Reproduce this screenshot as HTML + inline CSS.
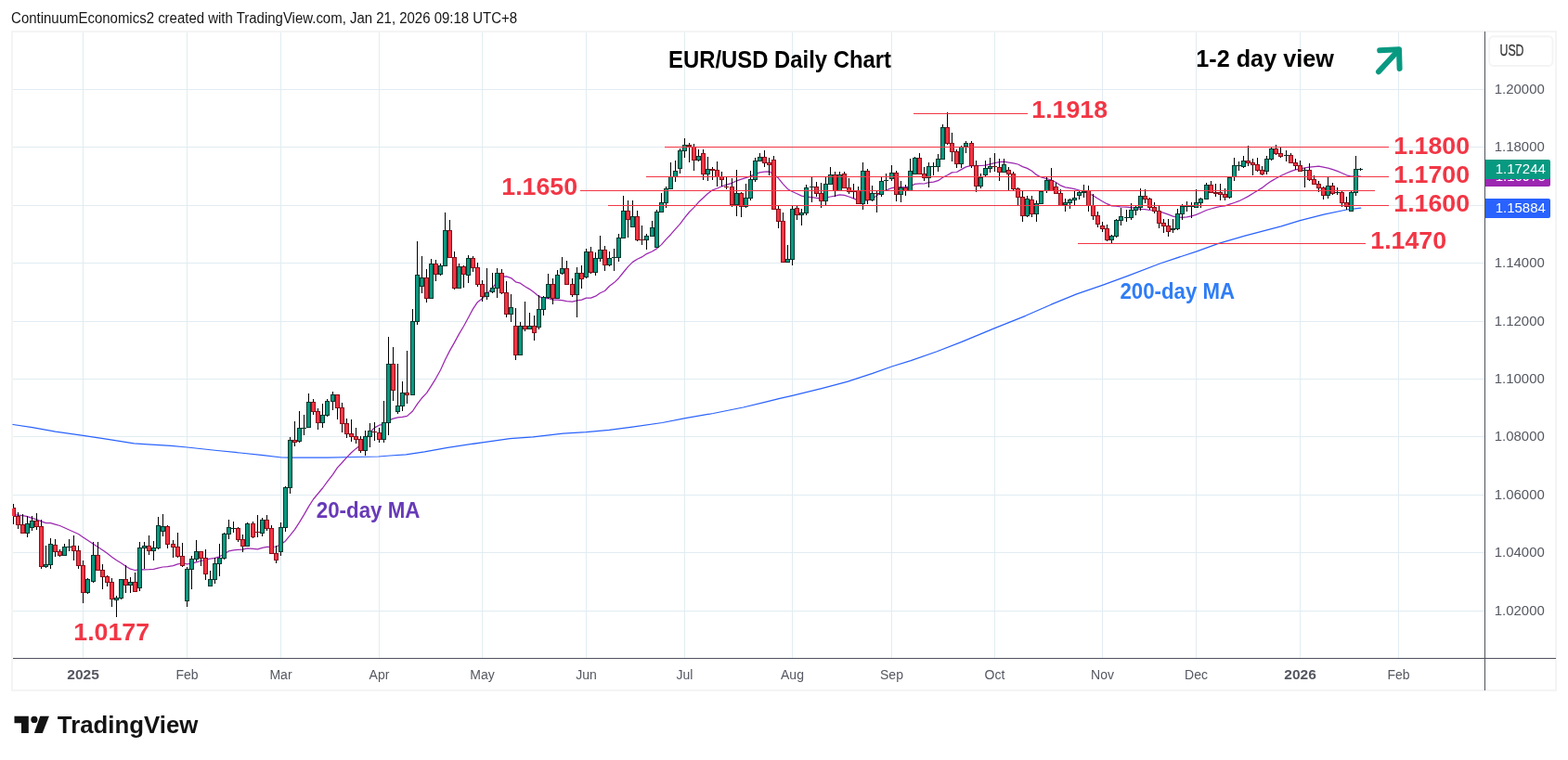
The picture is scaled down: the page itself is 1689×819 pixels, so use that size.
<!DOCTYPE html>
<html lang="en"><head><meta charset="utf-8"><title>EUR/USD Daily Chart</title>
<style>html,body{margin:0;padding:0;background:#fff;overflow:hidden}svg{display:block}text{font-family:'Liberation Sans', sans-serif}.ax{font-size:14px;fill:#555861}.b{font-weight:700}</style></head><body>
<svg width="1689" height="819" viewBox="0 0 1689 819">
<rect width="1689" height="819" fill="#fff"/>
<g shape-rendering="crispEdges">
<rect x="12" y="33" width="1665" height="712" fill="#f4f4f4"/>
<rect x="14" y="35" width="1661" height="708" fill="#fff"/>
<path d="M89.5 35V709M201.5 35V709M302.5 35V709M408.5 35V709M519.5 35V709M631.5 35V709M737.5 35V709M853.5 35V709M960.5 35V709M1071.5 35V709M1187.5 35V709M1288.5 35V709M1400.5 35V709M1506.5 35V709M14 96.5H1599M14 158.5H1599M14 221.5H1599M14 283.5H1599M14 346.5H1599M14 408.5H1599M14 470.5H1599M14 533.5H1599M14 595.5H1599M14 658.5H1599" stroke="#e1ecf2" stroke-width="1" fill="none"/>
</g>
<path d="M14 457.5L34.9 460.6L59.7 465.1L89.6 469.3L114.5 473.1L144.3 477.8L159.2 478.8L184.1 480.3L201.5 482L233.8 485.5L258.7 488L283.6 490.7L303.5 493L315.9 493.2L353.2 493L383 492.5L407.9 492L420 491L437.4 489.8L457.3 486.8L482.2 482.3L519.5 476.8L549.3 472.6L574.2 470.9L606.5 467.1L631.4 465.7L656.3 463.4L681.1 460.2L713.5 455.5L738.3 450.7L768.2 445.5L800.5 439L822.9 433.6L840 429.3L853.4 426.3L885 418.6L912.4 411.4L939.9 402.4L960.5 395L981.1 388.6L1008.6 379L1036 368.3L1071.5 353.7L1104.7 340.3L1132.2 328.2L1159.7 316.9L1187.4 307.3L1216 296.8L1249.5 284L1273.6 276L1288.5 271.1L1312.6 262.4L1340.9 254.1L1380 243.8L1400.4 237.6L1425.9 231.2L1450.4 226L1465.7 224.2" stroke="#2962ff" stroke-width="1.25" fill="none" stroke-linejoin="round" stroke-linecap="round"/>
<path d="M14 554.7L19.5 555.2L24.5 555.6L29.5 556.7L34.5 558.3L39.5 559.9L44.5 561.8L49.5 563.6L54.5 563.6L59.5 565.1L64.5 566.5L69.5 568.7L74.5 571L79.5 573.3L84.5 575.5L89.5 578.9L94.5 582.3L100.5 586.2L105.5 589.5L110.5 592.7L115.5 596.2L120.5 600.2L125.5 603.8L130.5 606.8L135.5 610.2L140.5 613.2L145.5 614.5L150.5 613.6L155.5 613.8L160.5 613.7L165.5 613.3L170.5 612.1L175.5 611L180.5 610.7L186.5 609.7L191.5 607.8L196.5 607L201.5 607.8L206.5 607.1L211.5 605.8L216.5 604.5L221.5 603.1L226.5 602.1L231.5 601.3L236.5 599.8L241.5 597.2L246.5 593.8L251.5 592.8L256.5 592.4L261.5 592.1L266.5 590.8L272.5 591.4L277.5 591.8L282.5 590.4L287.5 589.4L292.5 589.3L297.5 589L302.5 586.8L307.5 582.9L312.5 576.9L317.5 570.6L322.5 562.8L327.5 554.6L332.5 545.9L337.5 538L342.5 532L347.5 526L352.5 519.1L358.5 511.3L363.5 503.9L368.5 498.5L373.5 492.9L378.5 487.8L383.5 483.4L388.5 479.2L393.5 472.9L398.5 466L403.5 460.9L408.5 458.2L413.5 457.3L418.5 453.1L423.5 451.1L428.5 449.9L433.5 449.4L438.5 448.4L444.5 443L449.5 435.4L454.5 428.8L459.5 423.6L464.5 415.9L469.5 407.8L474.5 398.8L479.5 387.7L484.5 377.9L489.5 369.1L494.5 359.9L499.5 351.5L504.5 342.2L509.5 332.9L514.5 325.4L519.5 321.8L524.5 316.6L530.5 310.2L535.5 303.8L540.5 298.2L545.5 297.9L550.5 299.6L555.5 303.8L560.5 305.2L565.5 308.8L570.5 311.6L575.5 315.2L580.5 319.4L585.5 321.6L590.5 321.4L595.5 323.1L600.5 323.1L605.5 323.7L610.5 324.6L616.5 325.1L621.5 323.9L626.5 323.1L631.5 321.2L636.5 321.1L641.5 319.2L646.5 315.8L651.5 313.5L656.5 308.3L661.5 304.6L666.5 299.7L671.5 293.5L676.5 287.4L681.5 282.4L686.5 279.3L691.5 276.9L696.5 273.6L702.5 271L707.5 267.9L712.5 263.6L717.5 257.9L722.5 252.7L727.5 246.9L732.5 241.4L737.5 234.6L742.5 228.5L747.5 223.6L752.5 217.8L757.5 213.2L762.5 208.5L767.5 204.8L772.5 203L777.5 200.8L782.5 199.2L788.5 197.3L793.5 194.8L798.5 193.2L803.5 191.6L808.5 189.9L813.5 187.6L818.5 185.9L823.5 185.2L828.5 184.8L833.5 188L838.5 192.1L843.5 198.3L848.5 203.7L853.5 206.5L858.5 208.7L863.5 211.1L868.5 212.1L874.5 212.6L879.5 213.4L884.5 214.1L889.5 213L894.5 212L899.5 211.2L904.5 209.9L909.5 210.4L914.5 212L919.5 213.9L924.5 216.1L929.5 216.4L934.5 215.9L939.5 214.4L944.5 210.7L949.5 206.5L954.5 205L960.5 202.7L965.5 201.7L970.5 201.7L975.5 201.9L980.5 200.7L985.5 198.4L990.5 197.9L995.5 198L1000.5 196.7L1005.5 196.2L1010.5 194.7L1015.5 191.2L1020.5 188.7L1025.5 185.9L1030.5 185.5L1035.5 182.6L1040.5 179.9L1046.5 178.4L1051.5 178.7L1056.5 178.5L1061.5 178.2L1066.5 176.8L1071.5 175.6L1076.5 174.6L1081.5 174.2L1086.5 175.1L1091.5 175.9L1096.5 177L1101.5 179.6L1106.5 181.4L1111.5 184.3L1116.5 188.4L1121.5 191L1127.5 192.6L1132.5 194L1137.5 196.5L1142.5 199.9L1147.5 201.9L1152.5 202.6L1157.5 203.7L1162.5 205L1167.5 206.4L1172.5 208.5L1177.5 210.8L1182.5 214L1187.5 217L1192.5 219.7L1197.5 221.8L1202.5 222.1L1207.5 223L1213.5 223.2L1218.5 223.6L1223.5 224.4L1228.5 225.3L1233.5 225.7L1238.5 226.5L1243.5 226.8L1248.5 227.9L1253.5 229.3L1258.5 231.1L1263.5 233.1L1268.5 234.2L1273.5 234.3L1278.5 233.8L1283.5 232.8L1288.5 231.4L1293.5 229.2L1299.5 226.5L1304.5 225L1309.5 223.7L1314.5 222.5L1319.5 221.8L1324.5 220.2L1329.5 218.5L1334.5 216.7L1339.5 214.2L1344.5 211.6L1349.5 208.5L1354.5 205.5L1359.5 202.4L1364.5 198.6L1369.5 195.1L1374.5 192.2L1379.5 189.5L1385.5 186.8L1390.5 184.6L1395.5 182.8L1400.5 182.1L1405.5 180.9L1410.5 180.2L1415.5 179.6L1420.5 179.1L1425.5 180.1L1430.5 181.2L1435.5 182.7L1440.5 184.4L1445.5 186.5L1450.5 188.8L1455.5 190L1460.5 189.7L1465.5 190.2" stroke="#9c27b0" stroke-width="1.25" fill="none" stroke-linejoin="round" stroke-linecap="round"/>
<g shape-rendering="crispEdges">
<path d="M14 543h1V565h-1zM19 552h1V570h-1zM24 554h1V575h-1zM29 556h1V579h-1zM34 556h1V572h-1zM39 553h1V571h-1zM44 560h1V613h-1zM49 588h1V612h-1zM54 580h1V613h-1zM59 581h1V600h-1zM64 592h1V600h-1zM69 586h1V599h-1zM74 581h1V594h-1zM79 577h1V604h-1zM84 588h1V613h-1zM89 604h1V650h-1zM94 623h1V640h-1zM100 584h1V628h-1zM105 584h1V615h-1zM110 608h1V635h-1zM115 620h1V632h-1zM120 623h1V654h-1zM125 642h1V665h-1zM130 624h1V646h-1zM135 609h1V639h-1zM140 622h1V639h-1zM145 617h1V638h-1zM150 584h1V637h-1zM155 584h1V613h-1zM160 577h1V598h-1zM165 583h1V604h-1zM170 557h1V592h-1zM175 554h1V578h-1zM180 566h1V591h-1zM186 582h1V601h-1zM191 574h1V601h-1zM196 585h1V611h-1zM201 611h1V654h-1zM206 599h1V635h-1zM211 582h1V605h-1zM216 594h1V610h-1zM221 592h1V625h-1zM226 615h1V632h-1zM231 601h1V629h-1zM236 586h1V621h-1zM241 574h1V603h-1zM246 560h1V581h-1zM251 562h1V574h-1zM256 568h1V584h-1zM261 576h1V595h-1zM266 563h1V589h-1zM272 562h1V580h-1zM277 555h1V579h-1zM282 558h1V578h-1zM287 555h1V572h-1zM292 566h1V597h-1zM297 588h1V607h-1zM302 563h1V599h-1zM307 524h1V573h-1zM312 471h1V532h-1zM317 454h1V481h-1zM322 443h1V477h-1zM327 447h1V469h-1zM332 424h1V461h-1zM337 430h1V447h-1zM342 440h1V463h-1zM347 435h1V461h-1zM352 430h1V449h-1zM358 422h1V442h-1zM363 425h1V452h-1zM368 434h1V466h-1zM373 451h1V472h-1zM378 452h1V476h-1zM383 461h1V478h-1zM388 470h1V488h-1zM393 464h1V491h-1zM398 456h1V482h-1zM403 455h1V475h-1zM408 461h1V477h-1zM413 432h1V477h-1zM418 363h1V469h-1zM423 374h1V432h-1zM428 392h1V446h-1zM433 411h1V443h-1zM438 378h1V435h-1zM444 333h1V426h-1zM449 260h1V350h-1zM454 276h1V316h-1zM459 290h1V326h-1zM464 279h1V322h-1zM469 280h1V303h-1zM474 284h1V297h-1zM479 229h1V287h-1zM484 237h1V278h-1zM489 271h1V312h-1zM494 284h1V311h-1zM499 286h1V310h-1zM504 275h1V305h-1zM509 276h1V293h-1zM514 283h1V309h-1zM519 302h1V325h-1zM524 289h1V323h-1zM530 294h1V316h-1zM535 289h1V321h-1zM540 290h1V317h-1zM545 303h1V342h-1zM550 317h1V347h-1zM555 332h1V388h-1zM560 347h1V383h-1zM565 325h1V357h-1zM570 337h1V355h-1zM575 340h1V367h-1zM580 318h1V355h-1zM585 319h1V340h-1zM590 295h1V322h-1zM595 300h1V328h-1zM600 291h1V322h-1zM605 277h1V296h-1zM610 281h1V307h-1zM616 300h1V320h-1zM621 288h1V342h-1zM626 286h1V311h-1zM631 268h1V300h-1zM636 266h1V295h-1zM641 272h1V297h-1zM646 254h1V282h-1zM651 265h1V292h-1zM656 271h1V287h-1zM661 268h1V292h-1zM666 252h1V282h-1zM671 211h1V257h-1zM676 216h1V256h-1zM681 216h1V245h-1zM686 227h1V260h-1zM691 243h1V264h-1zM696 252h1V269h-1zM702 238h1V255h-1zM707 226h1V267h-1zM712 208h1V229h-1zM717 201h1V224h-1zM722 175h1V204h-1zM727 173h1V196h-1zM732 160h1V187h-1zM737 149h1V170h-1zM742 154h1V175h-1zM747 155h1V184h-1zM752 161h1V174h-1zM757 161h1V194h-1zM762 169h1V195h-1zM767 180h1V194h-1zM772 174h1V201h-1zM777 185h1V201h-1zM782 190h1V204h-1zM788 192h1V223h-1zM793 183h1V233h-1zM798 207h1V234h-1zM803 198h1V224h-1zM808 184h1V216h-1zM813 170h1V196h-1zM818 165h1V174h-1zM823 162h1V180h-1zM828 170h1V189h-1zM833 168h1V226h-1zM838 221h1V246h-1zM843 229h1V283h-1zM848 264h1V283h-1zM853 222h1V286h-1zM858 222h1V237h-1zM863 225h1V243h-1zM868 199h1V232h-1zM874 190h1V218h-1zM879 196h1V212h-1zM884 197h1V224h-1zM889 191h1V222h-1zM894 180h1V199h-1zM899 185h1V212h-1zM904 185h1V206h-1zM909 185h1V203h-1zM914 192h1V209h-1zM919 198h1V214h-1zM924 201h1V220h-1zM929 175h1V226h-1zM934 182h1V220h-1zM939 200h1V217h-1zM944 206h1V229h-1zM949 191h1V212h-1zM954 187h1V205h-1zM960 178h1V195h-1zM965 184h1V217h-1zM970 195h1V218h-1zM975 199h1V211h-1zM980 171h1V206h-1zM985 169h1V188h-1zM990 165h1V188h-1zM995 180h1V195h-1zM1000 175h1V202h-1zM1005 175h1V189h-1zM1010 166h1V185h-1zM1015 134h1V172h-1zM1020 121h1V156h-1zM1025 143h1V174h-1zM1030 161h1V181h-1zM1035 157h1V181h-1zM1040 152h1V165h-1zM1046 152h1V181h-1zM1051 173h1V207h-1zM1056 187h1V203h-1zM1061 173h1V190h-1zM1066 170h1V186h-1zM1071 165h1V185h-1zM1076 171h1V195h-1zM1081 171h1V186h-1zM1086 180h1V206h-1zM1091 185h1V205h-1zM1096 202h1V221h-1zM1101 206h1V239h-1zM1106 211h1V234h-1zM1111 211h1V234h-1zM1116 216h1V239h-1zM1121 205h1V220h-1zM1127 190h1V208h-1zM1132 181h1V206h-1zM1137 197h1V209h-1zM1142 204h1V222h-1zM1147 214h1V228h-1zM1152 214h1V225h-1zM1157 205h1V221h-1zM1162 206h1V215h-1zM1167 199h1V213h-1zM1172 200h1V228h-1zM1177 209h1V237h-1zM1182 228h1V245h-1zM1187 239h1V250h-1zM1192 242h1V260h-1zM1197 253h1V262h-1zM1202 236h1V256h-1zM1207 224h1V243h-1zM1213 226h1V239h-1zM1218 219h1V237h-1zM1223 221h1V232h-1zM1228 203h1V227h-1zM1233 204h1V219h-1zM1238 213h1V226h-1zM1243 218h1V230h-1zM1248 222h1V246h-1zM1253 236h1V251h-1zM1258 236h1V255h-1zM1263 236h1V251h-1zM1268 225h1V248h-1zM1273 220h1V237h-1zM1278 217h1V228h-1zM1283 218h1V235h-1zM1288 204h1V224h-1zM1293 213h1V224h-1zM1299 197h1V215h-1zM1304 195h1V208h-1zM1309 198h1V212h-1zM1314 198h1V216h-1zM1319 203h1V216h-1zM1324 191h1V214h-1zM1329 170h1V195h-1zM1334 174h1V184h-1zM1339 168h1V181h-1zM1344 157h1V179h-1zM1349 171h1V189h-1zM1354 170h1V185h-1zM1359 179h1V189h-1zM1364 168h1V188h-1zM1369 159h1V173h-1zM1374 156h1V167h-1zM1379 159h1V170h-1zM1385 162h1V174h-1zM1390 165h1V176h-1zM1395 171h1V183h-1zM1400 173h1V185h-1zM1405 181h1V202h-1zM1410 176h1V195h-1zM1415 189h1V199h-1zM1420 195h1V207h-1zM1425 201h1V215h-1zM1430 191h1V214h-1zM1435 197h1V210h-1zM1440 202h1V210h-1zM1445 206h1V223h-1zM1450 212h1V226h-1zM1455 206h1V228h-1zM1460 168h1V211h-1zM1465 181h1V184h-1z" fill="#000"/>
<path d="M27 564h5V575h-5zM32 561h5V569h-5zM47 608h5V611h-5zM52 586h5V609h-5zM67 589h5V599h-5zM72 589h5V590h-5zM92 624h5V639h-5zM98 598h5V627h-5zM123 644h5V647h-5zM128 624h5V645h-5zM138 627h5V631h-5zM148 590h5V634h-5zM153 588h5V591h-5zM163 590h5V594h-5zM168 566h5V591h-5zM173 567h5V573h-5zM199 613h5V648h-5zM204 602h5V614h-5zM209 594h5V603h-5zM224 624h5V632h-5zM229 607h5V625h-5zM234 601h5V608h-5zM239 575h5V602h-5zM244 568h5V576h-5zM249 569h5V570h-5zM264 564h5V589h-5zM280 560h5V575h-5zM300 568h5V595h-5zM305 525h5V569h-5zM310 474h5V526h-5zM320 461h5V476h-5zM325 461h5V462h-5zM330 433h5V461h-5zM345 447h5V456h-5zM350 432h5V448h-5zM356 425h5V433h-5zM391 470h5V486h-5zM396 464h5V471h-5zM411 455h5V474h-5zM416 392h5V456h-5zM426 437h5V444h-5zM431 423h5V438h-5zM442 346h5V426h-5zM447 296h5V347h-5zM452 299h5V309h-5zM462 284h5V322h-5zM472 286h5V296h-5zM477 248h5V287h-5zM492 287h5V311h-5zM502 278h5V297h-5zM522 315h5V320h-5zM528 310h5V315h-5zM533 294h5V311h-5zM548 331h5V339h-5zM558 351h5V383h-5zM568 351h5V355h-5zM578 333h5V353h-5zM583 320h5V334h-5zM588 306h5V321h-5zM598 296h5V322h-5zM603 289h5V295h-5zM619 294h5V318h-5zM629 271h5V299h-5zM639 278h5V294h-5zM644 269h5V279h-5zM654 278h5V286h-5zM659 277h5V278h-5zM664 256h5V278h-5zM669 227h5V257h-5zM679 233h5V245h-5zM694 254h5V259h-5zM700 245h5V255h-5zM705 228h5V267h-5zM710 218h5V229h-5zM715 203h5V219h-5zM720 190h5V204h-5zM725 184h5V191h-5zM730 162h5V182h-5zM735 156h5V163h-5zM750 168h5V173h-5zM760 182h5V188h-5zM791 208h5V221h-5zM801 213h5V223h-5zM806 193h5V214h-5zM811 173h5V194h-5zM816 169h5V174h-5zM846 279h5V283h-5zM851 225h5V280h-5zM861 229h5V232h-5zM866 202h5V230h-5zM872 201h5V202h-5zM887 198h5V217h-5zM892 188h5V199h-5zM902 188h5V206h-5zM927 184h5V220h-5zM937 208h5V216h-5zM947 195h5V210h-5zM952 194h5V195h-5zM958 186h5V193h-5zM968 202h5V210h-5zM978 184h5V206h-5zM983 170h5V188h-5zM998 179h5V192h-5zM1003 179h5V180h-5zM1008 171h5V180h-5zM1013 137h5V172h-5zM1033 158h5V177h-5zM1038 154h5V158h-5zM1054 191h5V201h-5zM1059 181h5V189h-5zM1064 179h5V182h-5zM1079 177h5V186h-5zM1104 214h5V233h-5zM1114 219h5V231h-5zM1119 206h5V220h-5zM1125 194h5V206h-5zM1145 218h5V221h-5zM1150 215h5V219h-5zM1155 213h5V216h-5zM1160 207h5V211h-5zM1165 206h5V208h-5zM1195 254h5V259h-5zM1200 237h5V255h-5zM1205 233h5V238h-5zM1211 234h5V235h-5zM1216 226h5V235h-5zM1221 223h5V227h-5zM1226 211h5V224h-5zM1261 246h5V248h-5zM1266 230h5V247h-5zM1271 222h5V231h-5zM1276 222h5V223h-5zM1281 222h5V223h-5zM1286 218h5V224h-5zM1291 214h5V219h-5zM1297 199h5V215h-5zM1322 191h5V213h-5zM1327 178h5V191h-5zM1332 178h5V179h-5zM1337 173h5V180h-5zM1362 171h5V185h-5zM1367 160h5V172h-5zM1383 167h5V168h-5zM1403 183h5V184h-5zM1428 200h5V211h-5zM1438 207h5V208h-5zM1453 207h5V228h-5zM1458 182h5V208h-5zM1463 182h5V183h-5z" fill="#04372c"/>
<path d="M14 547h3V557h-3zM17 556h5V566h-5zM22 565h5V575h-5zM37 561h5V568h-5zM42 567h5V611h-5zM57 587h5V595h-5zM62 594h5V599h-5zM77 588h5V594h-5zM82 593h5V610h-5zM87 609h5V639h-5zM103 598h5V615h-5zM108 614h5V622h-5zM113 621h5V628h-5zM118 627h5V646h-5zM133 624h5V631h-5zM143 627h5V638h-5zM158 588h5V594h-5zM178 567h5V587h-5zM184 586h5V590h-5zM189 589h5V600h-5zM194 599h5V610h-5zM214 594h5V602h-5zM219 601h5V619h-5zM254 569h5V582h-5zM259 581h5V589h-5zM270 564h5V579h-5zM275 573h5V574h-5zM285 560h5V570h-5zM290 569h5V597h-5zM295 596h5V604h-5zM315 474h5V477h-5zM335 433h5V444h-5zM340 443h5V456h-5zM361 425h5V440h-5zM366 439h5V457h-5zM371 456h5V468h-5zM376 467h5V471h-5zM381 470h5V474h-5zM386 473h5V486h-5zM401 465h5V466h-5zM406 466h5V474h-5zM421 392h5V421h-5zM436 423h5V426h-5zM457 299h5V322h-5zM467 284h5V296h-5zM482 248h5V278h-5zM487 277h5V311h-5zM497 287h5V296h-5zM507 278h5V289h-5zM512 288h5V307h-5zM517 306h5V320h-5zM538 294h5V316h-5zM543 315h5V339h-5zM553 351h5V383h-5zM563 351h5V355h-5zM573 351h5V359h-5zM593 306h5V322h-5zM608 289h5V307h-5zM614 306h5V318h-5zM624 294h5V301h-5zM634 271h5V294h-5zM649 269h5V286h-5zM674 227h5V237h-5zM684 233h5V259h-5zM689 258h5V259h-5zM740 156h5V158h-5zM745 158h5V173h-5zM755 165h5V188h-5zM765 182h5V184h-5zM770 183h5V191h-5zM775 190h5V194h-5zM780 201h5V202h-5zM786 201h5V221h-5zM796 208h5V223h-5zM821 169h5V176h-5zM826 175h5V178h-5zM831 172h5V226h-5zM836 225h5V239h-5zM841 238h5V283h-5zM856 224h5V232h-5zM877 201h5V209h-5zM882 208h5V217h-5zM897 188h5V206h-5zM907 187h5V203h-5zM912 202h5V207h-5zM917 206h5V207h-5zM922 205h5V220h-5zM932 184h5V216h-5zM942 208h5V209h-5zM963 186h5V210h-5zM973 202h5V206h-5zM988 170h5V188h-5zM993 187h5V192h-5zM1018 137h5V155h-5zM1023 154h5V164h-5zM1028 163h5V177h-5zM1044 154h5V179h-5zM1049 178h5V201h-5zM1069 179h5V180h-5zM1074 180h5V186h-5zM1084 183h5V188h-5zM1089 187h5V204h-5zM1094 203h5V213h-5zM1099 212h5V233h-5zM1109 215h5V231h-5zM1130 194h5V206h-5zM1135 201h5V209h-5zM1140 208h5V222h-5zM1170 205h5V222h-5zM1175 221h5V233h-5zM1180 232h5V242h-5zM1185 243h5V247h-5zM1190 246h5V259h-5zM1231 211h5V215h-5zM1236 214h5V224h-5zM1241 223h5V228h-5zM1246 227h5V241h-5zM1251 240h5V244h-5zM1256 243h5V250h-5zM1302 199h5V208h-5zM1307 207h5V209h-5zM1312 207h5V210h-5zM1317 209h5V213h-5zM1342 173h5V176h-5zM1347 175h5V178h-5zM1352 177h5V184h-5zM1357 183h5V188h-5zM1372 160h5V166h-5zM1377 165h5V169h-5zM1388 167h5V176h-5zM1393 175h5V179h-5zM1398 178h5V185h-5zM1408 183h5V194h-5zM1413 193h5V199h-5zM1418 198h5V203h-5zM1423 202h5V211h-5zM1433 200h5V209h-5zM1443 207h5V219h-5zM1448 218h5V223h-5z" fill="#8a0e19"/>
<path d="M28 565h3V574h-3zM33 562h3V568h-3zM48 609h3V610h-3zM53 587h3V608h-3zM68 590h3V598h-3zM93 625h3V638h-3zM99 599h3V626h-3zM124 645h3V646h-3zM129 625h3V644h-3zM139 628h3V630h-3zM149 591h3V633h-3zM154 589h3V590h-3zM164 591h3V593h-3zM169 567h3V590h-3zM174 568h3V572h-3zM200 614h3V647h-3zM205 603h3V613h-3zM210 595h3V602h-3zM225 625h3V631h-3zM230 608h3V624h-3zM235 602h3V607h-3zM240 576h3V601h-3zM245 569h3V575h-3zM265 565h3V588h-3zM281 561h3V574h-3zM301 569h3V594h-3zM306 526h3V568h-3zM311 475h3V525h-3zM321 462h3V475h-3zM331 434h3V460h-3zM346 448h3V455h-3zM351 433h3V447h-3zM357 426h3V432h-3zM392 471h3V485h-3zM397 465h3V470h-3zM412 456h3V473h-3zM417 393h3V455h-3zM427 438h3V443h-3zM432 424h3V437h-3zM443 347h3V425h-3zM448 297h3V346h-3zM453 300h3V308h-3zM463 285h3V321h-3zM473 287h3V295h-3zM478 249h3V286h-3zM493 288h3V310h-3zM503 279h3V296h-3zM523 316h3V319h-3zM529 311h3V314h-3zM534 295h3V310h-3zM549 332h3V338h-3zM559 352h3V382h-3zM569 352h3V354h-3zM579 334h3V352h-3zM584 321h3V333h-3zM589 307h3V320h-3zM599 297h3V321h-3zM604 290h3V294h-3zM620 295h3V317h-3zM630 272h3V298h-3zM640 279h3V293h-3zM645 270h3V278h-3zM655 279h3V285h-3zM665 257h3V277h-3zM670 228h3V256h-3zM680 234h3V244h-3zM695 255h3V258h-3zM701 246h3V254h-3zM706 229h3V266h-3zM711 219h3V228h-3zM716 204h3V218h-3zM721 191h3V203h-3zM726 185h3V190h-3zM731 163h3V181h-3zM736 157h3V162h-3zM751 169h3V172h-3zM761 183h3V187h-3zM792 209h3V220h-3zM802 214h3V222h-3zM807 194h3V213h-3zM812 174h3V193h-3zM817 170h3V173h-3zM847 280h3V282h-3zM852 226h3V279h-3zM862 230h3V231h-3zM867 203h3V229h-3zM888 199h3V216h-3zM893 189h3V198h-3zM903 189h3V205h-3zM928 185h3V219h-3zM938 209h3V215h-3zM948 196h3V209h-3zM959 187h3V192h-3zM969 203h3V209h-3zM979 185h3V205h-3zM984 171h3V187h-3zM999 180h3V191h-3zM1009 172h3V179h-3zM1014 138h3V171h-3zM1034 159h3V176h-3zM1039 155h3V157h-3zM1055 192h3V200h-3zM1060 182h3V188h-3zM1065 180h3V181h-3zM1080 178h3V185h-3zM1105 215h3V232h-3zM1115 220h3V230h-3zM1120 207h3V219h-3zM1126 195h3V205h-3zM1146 219h3V220h-3zM1151 216h3V218h-3zM1156 214h3V215h-3zM1161 208h3V210h-3zM1196 255h3V258h-3zM1201 238h3V254h-3zM1206 234h3V237h-3zM1217 227h3V234h-3zM1222 224h3V226h-3zM1227 212h3V223h-3zM1267 231h3V246h-3zM1272 223h3V230h-3zM1287 219h3V223h-3zM1292 215h3V218h-3zM1298 200h3V214h-3zM1323 192h3V212h-3zM1328 179h3V190h-3zM1338 174h3V179h-3zM1363 172h3V184h-3zM1368 161h3V171h-3zM1429 201h3V210h-3zM1454 208h3V227h-3zM1459 183h3V207h-3z" fill="#089981"/>
<path d="M13 548h3V556h-3zM18 557h3V565h-3zM23 566h3V574h-3zM38 562h3V567h-3zM43 568h3V610h-3zM58 588h3V594h-3zM63 595h3V598h-3zM78 589h3V593h-3zM83 594h3V609h-3zM88 610h3V638h-3zM104 599h3V614h-3zM109 615h3V621h-3zM114 622h3V627h-3zM119 628h3V645h-3zM134 625h3V630h-3zM144 628h3V637h-3zM159 589h3V593h-3zM179 568h3V586h-3zM185 587h3V589h-3zM190 590h3V599h-3zM195 600h3V609h-3zM215 595h3V601h-3zM220 602h3V618h-3zM255 570h3V581h-3zM260 582h3V588h-3zM271 565h3V578h-3zM286 561h3V569h-3zM291 570h3V596h-3zM296 597h3V603h-3zM316 475h3V476h-3zM336 434h3V443h-3zM341 444h3V455h-3zM362 426h3V439h-3zM367 440h3V456h-3zM372 457h3V467h-3zM377 468h3V470h-3zM382 471h3V473h-3zM387 474h3V485h-3zM407 467h3V473h-3zM422 393h3V420h-3zM437 424h3V425h-3zM458 300h3V321h-3zM468 285h3V295h-3zM483 249h3V277h-3zM488 278h3V310h-3zM498 288h3V295h-3zM508 279h3V288h-3zM513 289h3V306h-3zM518 307h3V319h-3zM539 295h3V315h-3zM544 316h3V338h-3zM554 352h3V382h-3zM564 352h3V354h-3zM574 352h3V358h-3zM594 307h3V321h-3zM609 290h3V306h-3zM615 307h3V317h-3zM625 295h3V300h-3zM635 272h3V293h-3zM650 270h3V285h-3zM675 228h3V236h-3zM685 234h3V258h-3zM746 159h3V172h-3zM756 166h3V187h-3zM771 184h3V190h-3zM776 191h3V193h-3zM787 202h3V220h-3zM797 209h3V222h-3zM822 170h3V175h-3zM827 176h3V177h-3zM832 173h3V225h-3zM837 226h3V238h-3zM842 239h3V282h-3zM857 225h3V231h-3zM878 202h3V208h-3zM883 209h3V216h-3zM898 189h3V205h-3zM908 188h3V202h-3zM913 203h3V206h-3zM923 206h3V219h-3zM933 185h3V215h-3zM964 187h3V209h-3zM974 203h3V205h-3zM989 171h3V187h-3zM994 188h3V191h-3zM1019 138h3V154h-3zM1024 155h3V163h-3zM1029 164h3V176h-3zM1045 155h3V178h-3zM1050 179h3V200h-3zM1075 181h3V185h-3zM1085 184h3V187h-3zM1090 188h3V203h-3zM1095 204h3V212h-3zM1100 213h3V232h-3zM1110 216h3V230h-3zM1131 195h3V205h-3zM1136 202h3V208h-3zM1141 209h3V221h-3zM1171 206h3V221h-3zM1176 222h3V232h-3zM1181 233h3V241h-3zM1186 244h3V246h-3zM1191 247h3V258h-3zM1232 212h3V214h-3zM1237 215h3V223h-3zM1242 224h3V227h-3zM1247 228h3V240h-3zM1252 241h3V243h-3zM1257 244h3V249h-3zM1303 200h3V207h-3zM1313 208h3V209h-3zM1318 210h3V212h-3zM1343 174h3V175h-3zM1348 176h3V177h-3zM1353 178h3V183h-3zM1358 184h3V187h-3zM1373 161h3V165h-3zM1378 166h3V168h-3zM1389 168h3V175h-3zM1394 176h3V178h-3zM1399 179h3V184h-3zM1409 184h3V193h-3zM1414 194h3V198h-3zM1419 199h3V202h-3zM1424 203h3V210h-3zM1434 201h3V208h-3zM1444 208h3V218h-3zM1449 219h3V222h-3z" fill="#f23645"/>
</g>
<g shape-rendering="crispEdges">
<path d="M984 122.5H1107M716 158.5H1496M696 190.5H1496M625 205.5H1481M655 221.5H1496M1161 262.5H1471" stroke="#f23645" stroke-width="1" fill="none"/>
<path d="M1599.5 34V744M14 709.5H1676" stroke="#50535e" stroke-width="1" fill="none"/>
</g>
<text x="12.1" y="25" font-size="16" textLength="545" lengthAdjust="spacingAndGlyphs" fill="#161616">ContinuumEconomics2 created with TradingView.com, Jan 21, 2026 09:18 UTC+8</text>
<text x="720" y="73" font-size="25.5" textLength="240" lengthAdjust="spacingAndGlyphs" class="b" fill="#000">EUR/USD Daily Chart</text>
<text x="1288.3" y="72" font-size="25.5" textLength="148.5" lengthAdjust="spacingAndGlyphs" class="b" fill="#000">1-2 day view</text>
<g stroke="#089981" stroke-width="6" fill="none" stroke-linecap="round" stroke-linejoin="round"><path d="M1486.2 54.3L1507 53.2L1507.6 73.9"/><path d="M1485 77.2L1506.5 54"/></g>
<text x="1111.3" y="126.6" font-size="25.5" textLength="81.8" lengthAdjust="spacingAndGlyphs" class="b" fill="#f23645">1.1918</text>
<text x="1501.3" y="165.7" font-size="25.5" textLength="81.8" lengthAdjust="spacingAndGlyphs" class="b" fill="#f23645">1.1800</text>
<text x="1501.3" y="196.8" font-size="25.5" textLength="81.8" lengthAdjust="spacingAndGlyphs" class="b" fill="#f23645">1.1700</text>
<text x="1501.3" y="227.7" font-size="25.5" textLength="81.8" lengthAdjust="spacingAndGlyphs" class="b" fill="#f23645">1.1600</text>
<text x="1476.3" y="268" font-size="25.5" textLength="81.8" lengthAdjust="spacingAndGlyphs" class="b" fill="#f23645">1.1470</text>
<text x="540.3" y="209.5" font-size="25.5" textLength="81.8" lengthAdjust="spacingAndGlyphs" class="b" fill="#f23645">1.1650</text>
<text x="79.3" y="690" font-size="25.5" textLength="81.8" lengthAdjust="spacingAndGlyphs" class="b" fill="#f23645">1.0177</text>
<text x="1206.5" y="322" font-size="24" textLength="123.5" lengthAdjust="spacingAndGlyphs" class="b" fill="#2f7df6">200-day MA</text>
<text x="340.8" y="557.6" font-size="24" textLength="111.6" lengthAdjust="spacingAndGlyphs" class="b" fill="#673ab7">20-day MA</text>
<text x="1609.8" y="101.4" font-size="15.4" textLength="54" lengthAdjust="spacingAndGlyphs" class="ax">1.20000</text>
<text x="1609.8" y="163.4" font-size="15.4" textLength="54" lengthAdjust="spacingAndGlyphs" class="ax">1.18000</text>
<text x="1609.8" y="226.4" font-size="15.4" textLength="54" lengthAdjust="spacingAndGlyphs" class="ax">1.16000</text>
<text x="1609.8" y="288.4" font-size="15.4" textLength="54" lengthAdjust="spacingAndGlyphs" class="ax">1.14000</text>
<text x="1609.8" y="351.4" font-size="15.4" textLength="54" lengthAdjust="spacingAndGlyphs" class="ax">1.12000</text>
<text x="1609.8" y="413.4" font-size="15.4" textLength="54" lengthAdjust="spacingAndGlyphs" class="ax">1.10000</text>
<text x="1609.8" y="475.4" font-size="15.4" textLength="54" lengthAdjust="spacingAndGlyphs" class="ax">1.08000</text>
<text x="1609.8" y="538.4" font-size="15.4" textLength="54" lengthAdjust="spacingAndGlyphs" class="ax">1.06000</text>
<text x="1609.8" y="600.4" font-size="15.4" textLength="54" lengthAdjust="spacingAndGlyphs" class="ax">1.04000</text>
<text x="1609.8" y="663.4" font-size="15.4" textLength="54" lengthAdjust="spacingAndGlyphs" class="ax">1.02000</text>
<rect x="1604.2" y="39.2" width="68.3" height="31.8" rx="4.5" ry="4.5" fill="#fff" stroke="#f4f4f4" stroke-width="1.9"/>
<text x="1615.5" y="59.8" font-size="16" textLength="26" lengthAdjust="spacingAndGlyphs" fill="#3a3a3a" stroke="#3a3a3a" stroke-width="0.3">USD</text>
<path d="M1600 214h68a2 2 0 0 1 2 2v17a2 2 0 0 1 -2 2h-68z" fill="#2962ff"/>
<text x="1610.7" y="229.4" font-size="15.4" textLength="54.2" lengthAdjust="spacingAndGlyphs" fill="#fff">1.15884</text>
<path d="M1600 180h68a2 2 0 0 1 2 2v17a2 2 0 0 1 -2 2h-68z" fill="#9c27b0"/>
<text x="1610.7" y="195.4" font-size="15.4" textLength="54.2" lengthAdjust="spacingAndGlyphs" fill="#fff">1.16975</text>
<path d="M1600 172h68a2 2 0 0 1 2 2v17a2 2 0 0 1 -2 2h-68z" fill="#089981"/>
<text x="1610.7" y="187.4" font-size="15.4" textLength="54.2" lengthAdjust="spacingAndGlyphs" fill="#fff">1.17244</text>
<text x="72.3" y="731.8" font-size="15" textLength="34.6" lengthAdjust="spacingAndGlyphs" class="ax b" fill="#4a4d58">2025</text>
<text x="201.5" y="731.8" font-size="15" class="ax" fill="#4f525c" text-anchor="middle">Feb</text>
<text x="302.5" y="731.8" font-size="15" class="ax" fill="#4f525c" text-anchor="middle">Mar</text>
<text x="408.5" y="731.8" font-size="15" class="ax" fill="#4f525c" text-anchor="middle">Apr</text>
<text x="519.5" y="731.8" font-size="15" class="ax" fill="#4f525c" text-anchor="middle">May</text>
<text x="631.5" y="731.8" font-size="15" class="ax" fill="#4f525c" text-anchor="middle">Jun</text>
<text x="737.5" y="731.8" font-size="15" class="ax" fill="#4f525c" text-anchor="middle">Jul</text>
<text x="853.5" y="731.8" font-size="15" class="ax" fill="#4f525c" text-anchor="middle">Aug</text>
<text x="960.5" y="731.8" font-size="15" class="ax" fill="#4f525c" text-anchor="middle">Sep</text>
<text x="1071.5" y="731.8" font-size="15" class="ax" fill="#4f525c" text-anchor="middle">Oct</text>
<text x="1187.5" y="731.8" font-size="15" class="ax" fill="#4f525c" text-anchor="middle">Nov</text>
<text x="1288.5" y="731.8" font-size="15" class="ax" fill="#4f525c" text-anchor="middle">Dec</text>
<text x="1383.3" y="731.8" font-size="15" textLength="34.6" lengthAdjust="spacingAndGlyphs" class="ax b" fill="#4a4d58">2026</text>
<text x="1506.5" y="731.8" font-size="15" class="ax" fill="#4f525c" text-anchor="middle">Feb</text>
<g fill="#131313"><path d="M15.5 771.7H30.8V790H23V779.3H15.5z"/><circle cx="36.9" cy="775.4" r="3.6"/><path d="M43.2 771.7H52.9L45.8 790H36.9z"/></g>
<text x="61.8" y="790.3" font-size="26" textLength="151.6" lengthAdjust="spacingAndGlyphs" class="b" fill="#131313">TradingView</text>
</svg></body></html>
